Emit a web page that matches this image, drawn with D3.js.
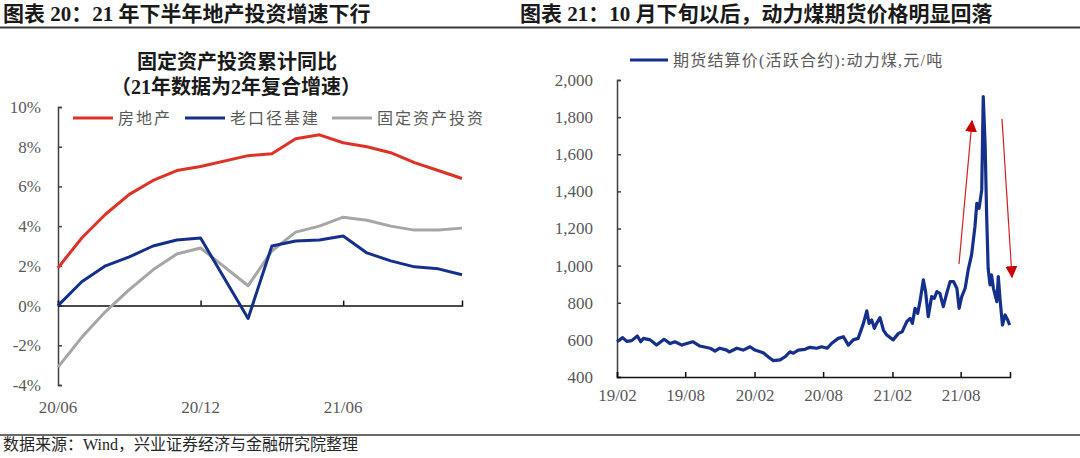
<!doctype html>
<html>
<head>
<meta charset="utf-8">
<script src="https://cdn.jsdelivr.net/npm/d3@7/dist/d3.min.js"></script>
<style>
  body { margin: 0; background: #fff; }
  svg { display: block; }
  .head { font-family: "Liberation Serif", "Noto Sans CJK SC", serif; font-weight: bold; font-size: 21px; fill: #1a1a1a; }
  .ctitle { font-family: "Liberation Serif", "Noto Sans CJK SC", serif; font-weight: bold; font-size: 20px; fill: #1a1a1a; }
  .tick text, .lbl { font-family: "Liberation Serif", serif; font-size: 17px; fill: #595959; }
  .leg { font-family: "Liberation Serif", "Noto Sans CJK SC", serif; font-size: 16px; fill: #595959; }
  .foot { font-family: "Liberation Serif", "Noto Sans CJK SC", serif; font-size: 16px; fill: #262626; }
</style>
</head>
<body>
<svg id="chart" width="1080" height="458"></svg>
<script>
// ---- left chart: FAI cumulative yoy (%), Jan-21 not published
const months = ["20/06","20/07","20/08","20/09","20/10","20/11","20/12","21/01","21/02",
                "21/03","21/04","21/05","21/06","21/07","21/08","21/09","21/10","21/11"]
const realEstate = [1.9, 3.4, 4.6, 5.6, 6.3, 6.8, 7.0, null, 7.55, 7.65, 8.4, 8.6, 8.2, 8.0, 7.7, 7.2, 6.8, 6.4]
const infraOld   = [0.0, 1.2, 2.0, 2.45, 3.0, 3.3, 3.4, null, -0.65, 3.0, 3.25, 3.3, 3.5, 2.65, 2.25, 1.95, 1.85, 1.55]
const faiTotal   = [-3.1, -1.6, -0.3, 0.8, 1.8, 2.6, 2.9, null, 1.0, 2.75, 3.7, 4.0, 4.45, 4.3, 4.0, 3.8, 3.8, 3.9]
const leftTicks = [-4, -2, 0, 2, 4, 6, 8, 10]
const leftSeries = [
  { name: "房地产", values: realEstate, color: "#e03127" },
  { name: "老口径基建", values: infraOld, color: "#14308c" },
  { name: "固定资产投资", values: faiTotal, color: "#a6a6a6" }
]

// ---- right chart: thermal coal futures settlement price (yuan/t)
const coalDates = ["2019-02-01","2019-02-16","2019-02-27","2019-03-12","2019-03-27","2019-04-05","2019-04-12",
  "2019-04-30","2019-05-17","2019-06-06","2019-06-22","2019-07-05","2019-07-23","2019-08-21","2019-09-09",
  "2019-10-06","2019-10-19","2019-11-01","2019-11-19","2019-11-26","2019-12-16","2020-01-02","2020-01-20",
  "2020-02-02","2020-02-24","2020-03-13","2020-03-22","2020-04-09","2020-04-22","2020-05-05","2020-05-14",
  "2020-05-27","2020-06-14","2020-06-27","2020-07-15","2020-07-28","2020-08-12","2020-08-24","2020-09-10",
  "2020-09-24","2020-10-07","2020-10-20","2020-11-02","2020-11-16","2020-11-25","2020-12-01","2020-12-08",
  "2020-12-15","2020-12-21","2020-12-30","2021-01-08","2021-01-17","2021-02-03","2021-02-17","2021-02-27",
  "2021-03-11","2021-03-20","2021-03-26","2021-04-02","2021-04-09","2021-04-15","2021-04-24","2021-04-30",
  "2021-05-07","2021-05-16","2021-05-23","2021-05-30","2021-06-07","2021-06-16","2021-06-25","2021-07-04",
  "2021-07-13","2021-07-22","2021-07-28","2021-08-04","2021-08-13","2021-08-21","2021-08-30","2021-09-08",
  "2021-09-13","2021-09-19","2021-09-26","2021-09-30","2021-10-05","2021-10-09","2021-10-13","2021-10-18",
  "2021-10-22","2021-10-27","2021-11-05","2021-11-09","2021-11-13","2021-11-20","2021-11-27","2021-12-04",
  "2021-12-09"]
const coalPrice = [590, 612, 592, 596, 621, 590, 608,
  600, 572, 603, 580, 590, 572, 590, 567,
  555, 540, 555, 545, 535, 555, 545, 563,
  545, 531, 501, 488, 492, 509, 536, 528,
  545, 549, 560, 555, 563, 555, 582, 608,
  617, 572, 600, 608, 689, 756, 689, 707,
  662, 689, 720, 653, 626, 600, 635, 644,
  698, 716, 689, 770, 743, 806, 923, 860,
  725, 833, 824, 860, 851, 779, 851, 914,
  914, 878, 770, 833, 878, 977, 1058, 1210,
  1336, 1309, 1408, 1911, 1650, 1273, 986, 896,
  950, 878, 806, 941, 833, 680, 734, 707,
  680]
const rightTicks = [400, 600, 800, 1000, 1200, 1400, 1600, 1800, 2000]
const rightTickDates = ["2019-02-01","2019-08-01","2020-02-01","2020-08-01","2021-02-01","2021-08-01"]

const svg = d3.select("#chart")
const parse = d3.timeParse("%Y-%m-%d")

// headers and rules
svg.append("text").attr("class", "head").attr("x", 3).attr("y", 21).text("图表 20：21 年下半年地产投资增速下行")
svg.append("text").attr("class", "head").attr("x", 520).attr("y", 21).text("图表 21：10 月下旬以后，动力煤期货价格明显回落")
svg.append("line").attr("x1", 0).attr("x2", 1080).attr("y1", 27.5).attr("y2", 27.5)
  .attr("stroke", "#3a3a3a").attr("stroke-width", 2)
svg.append("line").attr("x1", 0).attr("x2", 1080).attr("y1", 435).attr("y2", 435)
  .attr("stroke", "#3a3a3a").attr("stroke-width", 1.5)
svg.append("text").attr("class", "foot").attr("x", 3).attr("y", 450).text("数据来源：Wind，兴业证券经济与金融研究院整理")

// ================= left chart
const xL = d3.scaleLinear().domain([0, months.length - 1]).range([58, 462])
const yL = d3.scaleLinear().domain([-4, 10]).range([385, 107])

svg.append("text").attr("class", "ctitle").attr("x", 237).attr("y", 69).attr("text-anchor", "middle").text("固定资产投资累计同比")
svg.append("text").attr("class", "ctitle").attr("x", 236).attr("y", 94).attr("text-anchor", "middle").text("（21年数据为2年复合增速）")

const yAxisL = svg.append("g").attr("transform", "translate(58,0)")
  .call(d3.axisLeft(yL).tickValues(leftTicks).tickSize(-4).tickPadding(17).tickFormat(d => d + "%"))
yAxisL.select(".domain").attr("stroke", "#404040").attr("stroke-width", 1.5)
yAxisL.selectAll(".tick line").attr("stroke", "#404040").attr("stroke-width", 1.5)

const xAxisL = svg.append("g").attr("transform", "translate(0," + yL(0) + ")")
  .call(d3.axisBottom(xL).tickValues([0, 6, 12]).tickSizeOuter(0).tickSize(-5).tickFormat(""))
xAxisL.select(".domain").attr("stroke", "#111").attr("stroke-width", 1.5)
xAxisL.selectAll(".tick line").attr("stroke", "#111").attr("stroke-width", 1.5)

svg.selectAll(".xlblL").data([0, 6, 12]).enter().append("text")
  .attr("class", "lbl").attr("text-anchor", "middle")
  .attr("x", d => xL(d)).attr("y", 413).text(d => months[d])

const lineL = d3.line().x(d => xL(d.i)).y(d => yL(d.v))
leftSeries.slice().reverse().forEach(s => {
  const pts = s.values.map((v, i) => ({ i: i, v: v })).filter(d => d.v !== null)
  svg.append("path").datum(pts).attr("d", lineL)
    .attr("fill", "none").attr("stroke", s.color).attr("stroke-width", 3).attr("stroke-linejoin", "round")
})

// left legend
const legX = [73, 185, 332]
leftSeries.forEach((s, k) => {
  const g = svg.append("g").attr("transform", "translate(" + legX[k] + ",118)")
  g.append("line").attr("x1", 0).attr("x2", 40).attr("stroke", s.color).attr("stroke-width", 3)
  g.append("text").attr("class", "leg").attr("x", 45).attr("dy", "0.35em").attr("letter-spacing", 2).text(s.name)
})

// ================= right chart
const xR = d3.scaleTime().domain([parse("2019-02-01"), parse("2021-12-10")]).range([617, 1010])
const yR = d3.scaleLinear().domain([400, 2000]).range([377, 80])

const yAxisR = svg.append("g").attr("transform", "translate(617,0)")
  .call(d3.axisLeft(yR).tickValues(rightTicks).tickSize(-4).tickPadding(24).tickFormat(d3.format(",")))
yAxisR.select(".domain").attr("stroke", "#404040").attr("stroke-width", 1.5)
yAxisR.selectAll(".tick line").attr("stroke", "#404040").attr("stroke-width", 1.5)

const xAxisR = svg.append("g").attr("transform", "translate(0,377)")
  .call(d3.axisBottom(xR).tickValues(rightTickDates.map(parse)).tickSizeOuter(0).tickSize(-5)
    .tickPadding(12).tickFormat(d3.timeFormat("%y/%m")))
xAxisR.select(".domain").attr("stroke", "#111").attr("stroke-width", 1.5)
xAxisR.selectAll(".tick line").attr("stroke", "#111").attr("stroke-width", 1.5)

const coal = coalDates.map((d, i) => ({ date: parse(d), v: coalPrice[i] }))
svg.append("path").datum(coal)
  .attr("d", d3.line().x(d => xR(d.date)).y(d => yR(d.v)))
  .attr("fill", "none").attr("stroke", "#14308c").attr("stroke-width", 3.2).attr("stroke-linejoin", "round")

// right legend
const gR = svg.append("g").attr("transform", "translate(630,60)")
gR.append("line").attr("x1", 0).attr("x2", 38).attr("stroke", "#14308c").attr("stroke-width", 3)
gR.append("text").attr("class", "leg").attr("x", 43).attr("dy", "0.35em").attr("letter-spacing", 1.2)
  .text("期货结算价(活跃合约):动力煤,元/吨")

// red arrows
const defs = svg.append("defs")
defs.append("marker").attr("id", "arrowhead").attr("viewBox", "0 0 10 10")
  .attr("refX", 9).attr("refY", 5).attr("markerWidth", 12).attr("markerHeight", 12)
  .attr("markerUnits", "userSpaceOnUse").attr("orient", "auto")
  .append("path").attr("d", "M0,0 L10,5 L0,10 Z").attr("fill", "#c80000")
svg.append("line").attr("x1", 959).attr("y1", 264).attr("x2", 972).attr("y2", 121)
  .attr("stroke", "#d42020").attr("stroke-width", 1.2).attr("marker-end", "url(#arrowhead)")
svg.append("line").attr("x1", 1002).attr("y1", 119).attr("x2", 1012).attr("y2", 277)
  .attr("stroke", "#d42020").attr("stroke-width", 1.2).attr("marker-end", "url(#arrowhead)")
</script>
</body>
</html>
